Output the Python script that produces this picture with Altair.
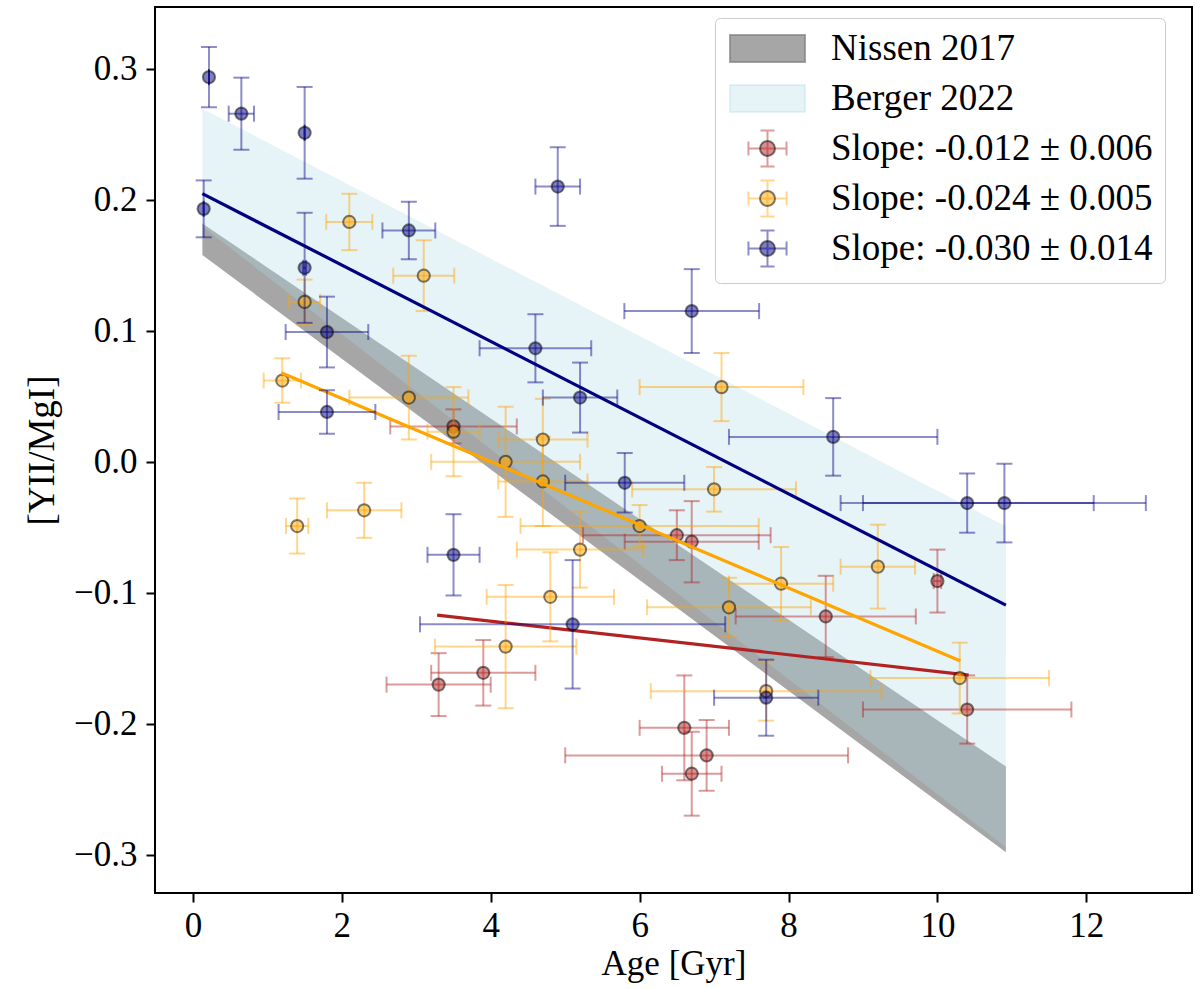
import altair as alt
import pandas as pd

FONT = "Liberation Serif"
FS = 35
LEG_FS = 37

# ---- measurements: stellar age [Gyr] and [YII/MgI], with 1-sigma errors ----
red_age = [3.50, 3.30, 3.90, 6.50, 6.70, 6.60, 6.90, 6.70, 8.50, 10.00, 10.40]
red_age_err = [0.85, 0.70, 0.70, 1.26, 0.90, 0.60, 1.90, 0.40, 1.21, 0.05, 1.40]
red_ratio = [0.027, -0.170, -0.161, -0.056, -0.061, -0.203, -0.224, -0.238, -0.118, -0.091, -0.189]
red_ratio_err = [0.013, 0.024, 0.025, 0.019, 0.031, 0.040, 0.027, 0.032, 0.031, 0.024, 0.026]

orange_age = [1.20, 1.50, 1.40, 2.10, 2.30, 2.90, 3.10, 3.50, 4.20, 4.20, 4.70,
              4.70, 4.80, 5.20, 6.00, 7.00, 7.10, 7.20, 7.70, 7.90, 9.20, 10.30]
orange_age_err = [0.25, 0.21, 0.15, 0.31, 0.50, 0.80, 0.41, 0.35, 1.00, 0.95, 0.60,
                  0.60, 0.855, 0.85, 1.60, 1.10, 1.10, 1.10, 1.55, 0.70, 0.50, 1.20]
orange_ratio = [0.062, 0.122, -0.049, 0.183, -0.037, 0.049, 0.142, 0.023, 0.000, -0.141, 0.017,
                -0.015, -0.103, -0.067, -0.049, -0.021, 0.057, -0.111, -0.175, -0.093, -0.080, -0.165]
orange_ratio_err = [0.017, 0.017, 0.021, 0.0215, 0.021, 0.032, 0.027, 0.034, 0.042, 0.047, 0.031,
                    0.034, 0.034, 0.029, 0.016, 0.017, 0.026, 0.0225, 0.0225, 0.028, 0.032, 0.027]

blue_age = [0.215, 0.65, 1.50, 0.144, 1.50, 2.90, 1.80, 1.80, 3.50, 4.60,
            4.90, 5.20, 5.80, 5.10, 6.70, 7.70, 8.60, 10.40, 10.90]
blue_age_err = [0.0, 0.17, 0.0, 0.0, 0.02, 0.355, 0.555, 0.65, 0.35, 0.75,
                0.30, 0.50, 0.80, 2.05, 0.905, 0.70, 1.40, 1.70, 1.90]
blue_ratio = [0.2935, 0.2656, 0.251, 0.193, 0.148, 0.1765, 0.099, 0.038, -0.071, 0.0866,
              0.210, 0.049, -0.016, -0.124, 0.115, -0.180, 0.019, -0.0315, -0.0315]
blue_ratio_err = [0.023, 0.0275, 0.035, 0.0217, 0.042, 0.022, 0.027, 0.0166, 0.031, 0.026,
                  0.030, 0.0267, 0.0227, 0.049, 0.032, 0.029, 0.0296, 0.0226, 0.030]

# ---- linear fits (end points of each fitted segment) ----
red_fit_age = [3.28, 10.42]
red_fit_ratio = [-0.117, -0.1627]
orange_fit_age = [1.186, 10.31]
orange_fit_ratio = [0.068, -0.152]
blue_fit_age = [0.126, 10.92]
blue_fit_ratio = [0.2046, -0.1094]

# ---- literature relations (lower / upper envelopes) ----
band_age = [0.126, 10.92]
nissen_low = [0.1578, -0.298]
nissen_high = [0.1818, -0.2325]
berger_low = [0.1795, -0.294]
berger_high = [0.2694, -0.0493]

legend_entries = ["Nissen 2017", "Berger 2022",
                  "Slope: -0.012 \u00b1 0.006",
                  "Slope: -0.024 \u00b1 0.005",
                  "Slope: -0.030 \u00b1 0.014"]

x_scale = alt.Scale(domain=[-0.51, 13.42], nice=False, zero=False)
y_scale = alt.Scale(domain=[-0.329, 0.347], nice=False, zero=False)
x_axis = alt.Axis(values=[0, 2, 4, 6, 8, 10, 12], format="d", labelPadding=6, titlePadding=3)
y_axis = alt.Axis(values=[-0.3, -0.2, -0.1, 0.0, 0.1, 0.2, 0.3], format=".1f",
                  labelPadding=9, titlePadding=12, titleFontSize=37,
                  labelExpr="replace(datum.label, '-', '\u2212')")


def X(field):
    return alt.X(field, type="quantitative", scale=x_scale, axis=x_axis, title="Age [Gyr]")


def Y(field):
    return alt.Y(field, type="quantitative", scale=y_scale, axis=y_axis, title="[YII/MgI]")


def sample_frame(age, age_err, val, val_err):
    return pd.DataFrame({
        "age": age,
        "age_lo": [a - e for a, e in zip(age, age_err)],
        "age_hi": [a + e for a, e in zip(age, age_err)],
        "val": val,
        "val_lo": [v - e for v, e in zip(val, val_err)],
        "val_hi": [v + e for v, e in zip(val, val_err)],
    })


def sample_layers(df, color, fit_age, fit_val):
    base = alt.Chart(df)
    bar_op = 0.45
    hbar = base.mark_rule(color=color, opacity=bar_op, strokeWidth=2).encode(
        x=X("age_lo"), x2=alt.X2("age_hi"), y=Y("val"))
    vbar = base.mark_rule(color=color, opacity=bar_op, strokeWidth=2).encode(
        x=X("age"), y=Y("val_lo"), y2=alt.Y2("val_hi"))
    caps = []
    for f in ["val_lo", "val_hi"]:
        caps.append(base.mark_tick(orient="horizontal", size=16, thickness=2,
                                   color=color, opacity=bar_op).encode(x=X("age"), y=Y(f)))
    for f in ["age_lo", "age_hi"]:
        caps.append(base.mark_tick(orient="vertical", size=16, thickness=2,
                                   color=color, opacity=bar_op).encode(x=X(f), y=Y("val")))
    pts = base.mark_point(shape="circle", filled=True, size=150, opacity=1,
                          fill=color, fillOpacity=0.5, stroke="black",
                          strokeOpacity=0.5, strokeWidth=2).encode(x=X("age"), y=Y("val"))
    fit = alt.Chart(pd.DataFrame({"age": fit_age, "val": fit_val})).mark_line(
        color=color, strokeWidth=3.2).encode(x=X("age"), y=Y("val"))
    return [hbar, vbar] + caps + [pts, fit]


nissen = alt.Chart(pd.DataFrame({"age": band_age, "lo": nissen_low, "hi": nissen_high})).mark_area(
    color="#808080", opacity=0.7).encode(x=X("age"), y=Y("lo"), y2=alt.Y2("hi"))
berger = alt.Chart(pd.DataFrame({"age": band_age, "lo": berger_low, "hi": berger_high})).mark_area(
    color="#add8e6", opacity=0.3).encode(x=X("age"), y=Y("lo"), y2=alt.Y2("hi"))

red_layers = sample_layers(sample_frame(red_age, red_age_err, red_ratio, red_ratio_err),
                           "#b22222", red_fit_age, red_fit_ratio)
orange_layers = sample_layers(sample_frame(orange_age, orange_age_err, orange_ratio, orange_ratio_err),
                              "#ffa500", orange_fit_age, orange_fit_ratio)
blue_layers = sample_layers(sample_frame(blue_age, blue_age_err, blue_ratio, blue_ratio_err),
                            "#000080", blue_fit_age, blue_fit_ratio)

# ---- legend: patches and error-bar glyphs, plus a second pass for the marker rings ----
# every glyph carries the same vertical extent (bare move-to points) so both
# legends lay out their rows identically
EXTENT = "M0,-1.2M0,1.2"
PATCH = EXTENT + "M-2.5,-0.9H2.5V0.9H-2.5Z"
CROSS = ("M-1.27,0H1.27M0,-1.2V1.2M-1.27,-0.47V0.47M1.27,-0.47V0.47"
         "M-0.47,-1.2H0.47M-0.47,1.2H0.47")
RING = EXTENT + "M0.5,0A0.5,0.5,0,1,1,-0.5,0A0.5,0.5,0,1,1,0.5,0Z"

glyph_fill = ["rgba(128,128,128,0.7)", "rgba(173,216,230,0.3)", "transparent", "transparent", "transparent"]
glyph_stroke = ["rgba(128,128,128,0.7)", "rgba(173,216,230,0.3)", "rgba(178,34,34,0.45)",
                "rgba(255,165,0,0.45)", "rgba(0,0,128,0.45)"]
ring_fill = ["transparent", "transparent", "rgba(178,34,34,0.5)", "rgba(255,165,0,0.5)", "rgba(0,0,128,0.5)"]
ring_stroke = ["transparent", "transparent", "rgba(0,0,0,0.5)", "rgba(0,0,0,0.5)", "rgba(0,0,0,0.5)"]

LEG_X, LEG_Y = 560, 11
common_legend = dict(title=None, orient="none", legendX=LEG_X, legendY=LEG_Y, padding=12,
                     labelFont=FONT, labelFontSize=LEG_FS, labelColor="black", labelLimit=600,
                     symbolSize=900, symbolOffset=22, labelOffset=45, rowPadding=5,
                     symbolStrokeWidth=2, symbolOpacity=1)

legend_a = alt.Legend(**common_legend, fillColor="white", strokeColor="#cccccc", cornerRadius=5)
legend_b = alt.Legend(**common_legend, labelOpacity=0, zindex=1)


def key_layer(field, shapes, fills, strokes, legend):
    df = pd.DataFrame({field: legend_entries, "age": [None] * 5, "val": [None] * 5})
    return alt.Chart(df).mark_point(opacity=1).encode(
        x=X("age"), y=Y("val"),
        shape=alt.Shape(field + ":N", scale=alt.Scale(domain=legend_entries, range=shapes), legend=legend),
        fill=alt.Fill(field + ":N", scale=alt.Scale(domain=legend_entries, range=fills), legend=legend),
        stroke=alt.Stroke(field + ":N", scale=alt.Scale(domain=legend_entries, range=strokes), legend=legend),
    )


key_a = key_layer("entry", [PATCH, PATCH, CROSS, CROSS, CROSS], glyph_fill, glyph_stroke, legend_a)
key_b = key_layer("ring", [RING] * 5, ring_fill, ring_stroke, legend_b)

chart = alt.layer(
    nissen, berger, *red_layers, *orange_layers, *blue_layers, key_a, key_b
).resolve_scale(shape="independent", fill="independent", stroke="independent").properties(
    width=1037, height=886,
    autosize=alt.AutoSizeParams(type="none"),
    padding={"left": 155, "top": 7, "right": 10, "bottom": 96},
    background="white",
).configure_view(
    stroke="black", strokeWidth=2
).configure_axis(
    grid=False, domain=False, ticks=True, tickColor="black", tickWidth=2, tickSize=9,
    labelFont=FONT, labelFontSize=FS, labelColor="black",
    titleFont=FONT, titleFontSize=FS, titleFontWeight="normal", titleColor="black",
)

chart.save("out.html", embed_options={"renderer": "svg", "actions": False})
